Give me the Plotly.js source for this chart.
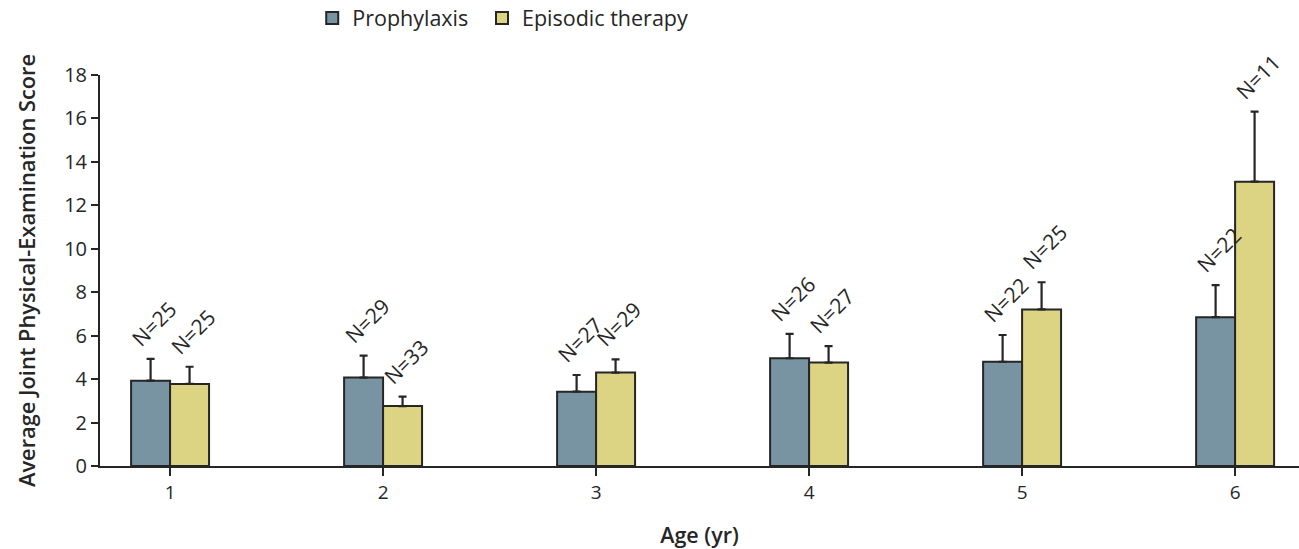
<!DOCTYPE html>
<html>
<head>
<meta charset="utf-8">
<script src="https://cdn.plot.ly/plotly-3.0.1.min.js"></script>
<style>html,body{margin:0;padding:0;background:#fff;}#chart{width:1299px;height:549px;}</style>
</head>
<body>
<div id="chart"></div>
<script>
const ages = [1, 2, 3, 4, 5, 6];
const prophylaxisMean = [3.93, 4.07, 3.42, 4.96, 4.80, 6.85];
const prophylaxisErr = [1.00, 1.01, 0.77, 1.12, 1.23, 1.48];
const prophylaxisN = [25, 29, 27, 26, 22, 22];
const episodicMean = [3.78, 2.76, 4.30, 4.76, 7.21, 13.09];
const episodicErr = [0.79, 0.43, 0.61, 0.76, 1.25, 3.22];
const episodicN = [25, 33, 29, 27, 25, 11];

const BARGAP = 0.634;
const barW = (1 - BARGAP) / 2;
const textColor = '#262626';
const fontFam = '"Open Sans", "Noto Sans", sans-serif';

function barTrace(name, y, err, color, legendId) {
  return {
    type: 'bar', name: name, x: ages, y: y, legend: legendId,
    marker: {color: color, line: {color: '#262626', width: 2}},
    error_y: {type: 'data', array: err, arrayminus: err.map(() => 0), symmetric: false,
              color: '#262626', thickness: 2.2, width: 4},
    hoverinfo: 'skip'
  };
}

const traces = [
  barTrace('Prophylaxis', prophylaxisMean, prophylaxisErr, '#7893a1', 'legend'),
  barTrace('Episodic therapy', episodicMean, episodicErr, '#dcd483', 'legend2')
];

const annFont = {family: fontFam, size: 21, color: textColor};
const annotations = [];
ages.forEach((a, i) => {
  annotations.push({x: a - barW / 2, y: prophylaxisMean[i] + prophylaxisErr[i], text: 'N=' + prophylaxisN[i],
    showarrow: false, textangle: -45, xanchor: 'center', yanchor: 'bottom', yshift: 4, xshift: 3, font: annFont});
  annotations.push({x: a + barW / 2, y: episodicMean[i] + episodicErr[i], text: 'N=' + episodicN[i],
    showarrow: false, textangle: -45, xanchor: 'center', yanchor: 'bottom', yshift: 4, xshift: 3, font: annFont});
});

const legendFont = {family: fontFam, size: 21.5, color: textColor};
const layout = {
  width: 1299, height: 549,
  margin: {l: 100, r: 0, t: 75, b: 83, autoexpand: false},
  paper_bgcolor: '#fff', plot_bgcolor: '#fff',
  barmode: 'group', bargap: BARGAP, bargroupgap: 0,
  font: {family: fontFam, color: textColor, size: 20},
  showlegend: true,
  legend: {orientation: 'h', x: 0.177, xanchor: 'left', y: 1.146, yanchor: 'middle',
           font: legendFont, itemclick: false},
  legend2: {orientation: 'h', x: 0.3186, xanchor: 'left', y: 1.146, yanchor: 'middle',
           font: legendFont, itemclick: false},
  xaxis: {
    range: [0.671, 6.30], tickvals: ages, ticktext: ages.map(String),
    showline: true, linecolor: '#262626', linewidth: 2,
    ticks: 'outside', ticklen: 8, tickwidth: 2, tickcolor: '#262626',
    showgrid: false, zeroline: false,
    tickfont: {family: fontFam, size: 19, color: textColor},
    title: {text: 'Age (yr)', standoff: 26, font: {family: fontFam, size: 21.5, color: textColor, weight: 600}}
  },
  yaxis: {
    range: [0, 18], dtick: 2, tick0: 0,
    showline: true, linecolor: '#262626', linewidth: 2,
    ticks: 'outside', ticklen: 7, tickwidth: 2, tickcolor: '#262626',
    showgrid: false, zeroline: false,
    tickfont: {family: fontFam, size: 20, color: textColor},
    title: {text: 'Average Joint Physical-Examination Score', standoff: 22,
            font: {family: fontFam, size: 21.8, color: textColor, weight: 600}}
  },
  annotations: annotations
};

Plotly.newPlot('chart', traces, layout, {displayModeBar: false, staticPlot: true});
</script>
</body>
</html>
